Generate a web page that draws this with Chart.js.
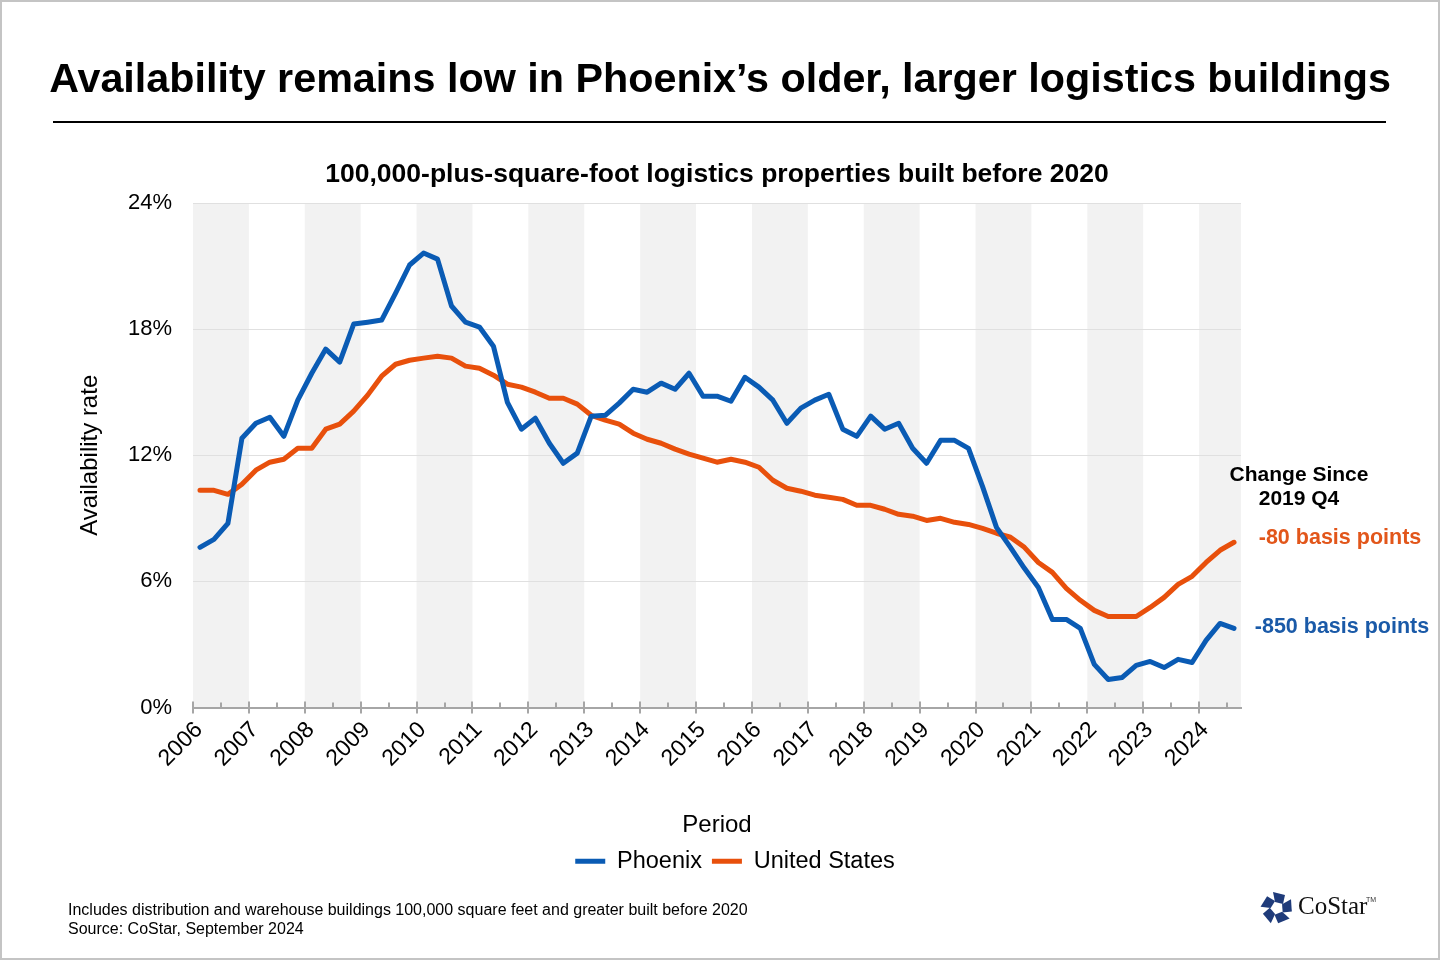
<!DOCTYPE html>
<html>
<head>
<meta charset="utf-8">
<title>Phoenix logistics availability</title>
<script src="https://cdn.jsdelivr.net/npm/chart.js@4.4.1/dist/chart.umd.min.js"></script>
<style>
  html, body { margin: 0; padding: 0; background: #fff; }
  body { font-family: 'Liberation Sans', Arial, sans-serif; color: #000; }
  #page { position: relative; width: 1440px; height: 960px; box-sizing: border-box; border: 2px solid #c4c4c4; overflow: hidden; }
  #wrap { position: absolute; left: -2px; top: -2px; width: 1440px; height: 960px; }
  .abs { position: absolute; white-space: nowrap; }
  #title { left: 0; top: 52px; width: 1436px; text-align: center; font-size: 41.3px; font-weight: bold; line-height: 48px; }
  #rule { left: 51px; top: 119px; width: 1333px; height: 2px; background: #000; }
  #subtitle { left: 0; top: 155px; width: 1430px; text-align: center; font-size: 26.5px; font-weight: bold; line-height: 32px; }
  #notes { left: 66px; top: 898px; font-size: 16px; line-height: 19px; }
  #logo { left: 1256px; top: 888px; }
  #logo .name { position: absolute; left: 40px; top: 2px; font-family: 'Liberation Serif', 'DejaVu Serif', serif; font-size: 25px; color: #111; }
  #logo .tm { position: absolute; left: 108px; top: 6px; font-size: 7px; color: #333; }
</style>
</head>
<body>
<div id="page">
  <div id="wrap"><canvas id="chart"></canvas></div>
  <div class="abs" id="title">Availability remains low in Phoenix’s older, larger logistics buildings</div>
  <div class="abs" id="rule"></div>
  <div class="abs" id="subtitle">100,000-plus-square-foot logistics properties built before 2020</div>
  <div class="abs" id="notes">Includes distribution and warehouse buildings 100,000 square feet and greater built before 2020<br>Source: CoStar, September 2024</div>
  <div class="abs" id="logo">
    <svg width="38" height="36" viewBox="-19 -18 38 36">
      <g fill="#1f3b7a">
        <polygon points="-4,-16 8,-13 6,-4 -2,-6" transform="rotate(0)"/>
        <polygon points="-4,-16 8,-13 6,-4 -2,-6" transform="rotate(72)"/>
        <polygon points="-4,-16 8,-13 6,-4 -2,-6" transform="rotate(144)"/>
        <polygon points="-4,-16 8,-13 6,-4 -2,-6" transform="rotate(216)"/>
        <polygon points="-4,-16 8,-13 6,-4 -2,-6" transform="rotate(288)"/>
      </g>
    </svg>
    <span class="name">CoStar</span><span class="tm">TM</span>
  </div>
</div>

<script>
// Availability rate, quarterly 2006 Q1 – 2024 Q3 (percent)
const years = ['2006', '2007', '2008', '2009', '2010', '2011', '2012', '2013', '2014', '2015',
               '2016', '2017', '2018', '2019', '2020', '2021', '2022', '2023', '2024'];

const phoenix = [7.62, 8.0, 8.76, 12.81, 13.52, 13.81, 12.9, 14.62, 15.9, 17.05, 16.43, 18.24,
                 18.33, 18.43, 19.71, 21.05, 21.62, 21.33, 19.1, 18.33, 18.1, 17.19, 14.52, 13.24,
                 13.76, 12.57, 11.62, 12.1, 13.86, 13.9, 14.48, 15.14, 15.0, 15.43, 15.14, 15.9,
                 14.81, 14.81, 14.57, 15.71, 15.24, 14.62, 13.52, 14.24, 14.62, 14.9, 13.24, 12.9,
                 13.86, 13.24, 13.52, 12.33, 11.62, 12.71, 12.71, 12.33, 10.52, 8.57, 7.62, 6.62,
                 5.71, 4.19, 4.19, 3.76, 2.05, 1.33, 1.43, 2.0, 2.19, 1.9, 2.29, 2.14,
                 3.19, 4.0, 3.76];

const unitedStates = [10.33, 10.33, 10.14, 10.62, 11.29, 11.67, 11.81, 12.33, 12.33, 13.24, 13.48, 14.1,
                      14.86, 15.76, 16.33, 16.52, 16.62, 16.71, 16.62, 16.24, 16.14, 15.81, 15.38, 15.24,
                      15.0, 14.71, 14.71, 14.43, 13.9, 13.67, 13.48, 13.05, 12.76, 12.57, 12.29, 12.05,
                      11.86, 11.67, 11.81, 11.67, 11.43, 10.81, 10.43, 10.29, 10.1, 10.0, 9.9, 9.62,
                      9.62, 9.43, 9.19, 9.1, 8.9, 9.0, 8.81, 8.71, 8.52, 8.29, 8.1, 7.62,
                      6.9, 6.43, 5.67, 5.1, 4.62, 4.33, 4.33, 4.33, 4.76, 5.24, 5.86, 6.24,
                      6.9, 7.48, 7.86];

const yTicks = [0, 6, 12, 18, 24];
const changeTitle = ['Change Since', '2019 Q4'];
const changeLabels = ['-850 basis points', '-80 basis points'];

const BLUE = '#0a5bb4';
const ORANGE = '#e8500c';
const FONT = "'Liberation Sans', Arial, sans-serif";
const nQuarters = phoenix.length;

// quarter index -> x value, centred in its quarter slot
const toPoints = arr => arr.map((v, i) => ({ x: i + 0.5, y: v }));

// alternating grey year bands behind the plot
const yearBands = {
  id: 'yearBands',
  beforeDraw(chart) {
    const { ctx, chartArea, scales: { x } } = chart;
    ctx.save();
    ctx.fillStyle = '#f2f2f2';
    years.forEach((yr, i) => {
      if (i % 2) return;
      const x0 = x.getPixelForValue(i * 4);
      const x1 = x.getPixelForValue(Math.min(i * 4 + 4, nQuarters));
      ctx.fillRect(x0, chartArea.top, x1 - x0, chartArea.bottom - chartArea.top);
    });
    ctx.restore();
  }
};

// year ticks cross the axis, half-year ticks sit above it
const axisTicks = {
  id: 'axisTicks',
  afterDatasetsDraw(chart) {
    const { ctx, chartArea, scales: { x } } = chart;
    const base = chartArea.bottom;
    ctx.save();
    ctx.strokeStyle = '#a6a6a6';
    ctx.lineWidth = 2;
    ctx.beginPath();
    for (let q = 0; q < nQuarters; q += 2) {
      const px = Math.round(x.getPixelForValue(q));
      const major = q % 4 === 0;
      ctx.moveTo(px, base - (major ? 6 : 5));
      ctx.lineTo(px, base + (major ? 6 : 0));
    }
    ctx.stroke();
    ctx.restore();
  }
};

// end-of-line change annotations
const changeNotes = {
  id: 'changeNotes',
  afterDraw(chart) {
    const { ctx, scales: { y } } = chart;
    ctx.save();
    ctx.textAlign = 'center';
    ctx.textBaseline = 'middle';
    ctx.fillStyle = '#000';
    ctx.font = 'bold 21px ' + FONT;
    ctx.fillText(changeTitle[0], 1299, 475);
    ctx.fillText(changeTitle[1], 1299, 499);
    ctx.font = 'bold 21.5px ' + FONT;
    ctx.fillStyle = '#1a5aa8';
    ctx.fillText(changeLabels[0], 1342, y.getPixelForValue(phoenix[nQuarters - 1]) - 1);
    ctx.fillStyle = '#e2561a';
    ctx.fillText(changeLabels[1], 1340, y.getPixelForValue(unitedStates[nQuarters - 1]) - 4);
    ctx.restore();
  }
};

Chart.defaults.font.family = FONT;
Chart.defaults.color = '#000';

new Chart(document.getElementById('chart'), {
  type: 'line',
  data: {
    datasets: [
      { label: 'Phoenix', data: toPoints(phoenix), borderColor: BLUE, backgroundColor: BLUE },
      { label: 'United States', data: toPoints(unitedStates), borderColor: ORANGE, backgroundColor: ORANGE },
    ],
  },
  options: {
    responsive: true,
    maintainAspectRatio: false,
    animation: false,
    layout: { padding: { left: 72, right: 42, top: 203, bottom: 77 } },
    elements: {
      line: { borderWidth: 5, tension: 0, borderCapStyle: 'round', borderJoinStyle: 'round' },
      point: { radius: 0, hoverRadius: 0 },
    },
    plugins: {
      tooltip: { enabled: false },
      legend: {
        position: 'bottom',
        labels: {
          font: { size: 23.5 },
          color: '#000',
          boxWidth: 30,
          boxHeight: 5,
          padding: 10,
          generateLabels(chart) {
            return Chart.defaults.plugins.legend.labels.generateLabels(chart)
              .map(l => ({ ...l, lineWidth: 0, fillStyle: l.strokeStyle }));
          },
        },
      },
    },
    scales: {
      x: {
        type: 'linear',
        min: 0,
        max: nQuarters,
        afterBuildTicks(scale) { scale.ticks = years.map((yr, i) => ({ value: i * 4 })); },
        afterFit(scale) { scale.height = 132; },
        ticks: {
          callback: (v) => years[v / 4],
          autoSkip: false,
          minRotation: 45,
          maxRotation: 45,
          padding: 9,
          labelOffset: 6,
          font: { size: 23 },
          color: '#000',
        },
        grid: { display: false, drawTicks: false },
        border: { display: true, color: '#a6a6a6', width: 2 },
        title: { display: true, text: 'Period', font: { size: 24 }, color: '#000', padding: { top: 4, bottom: 0 } },
      },
      y: {
        min: 0,
        max: 24,
        afterBuildTicks(scale) { scale.ticks = yTicks.map(v => ({ value: v })); },
        afterFit(scale) { scale.width = 121; },
        ticks: { callback: v => v + '%', padding: 21, font: { size: 22 }, color: '#000' },
        grid: { color: '#e0e0e0', lineWidth: 1, drawTicks: false },
        border: { display: false },
        title: { display: true, text: 'Availability rate', font: { size: 24 }, color: '#000', padding: { top: 4, bottom: 4 } },
      },
      // empty right-hand gutter that holds the change notes
      gutter: {
        type: 'linear',
        position: 'right',
        min: 0,
        max: 24,
        afterFit(scale) { scale.width = 157; },
        ticks: { display: false },
        grid: { display: false, drawTicks: false },
        border: { display: false },
      },
    },
  },
  plugins: [yearBands, axisTicks, changeNotes],
});
</script>
</body>
</html>
